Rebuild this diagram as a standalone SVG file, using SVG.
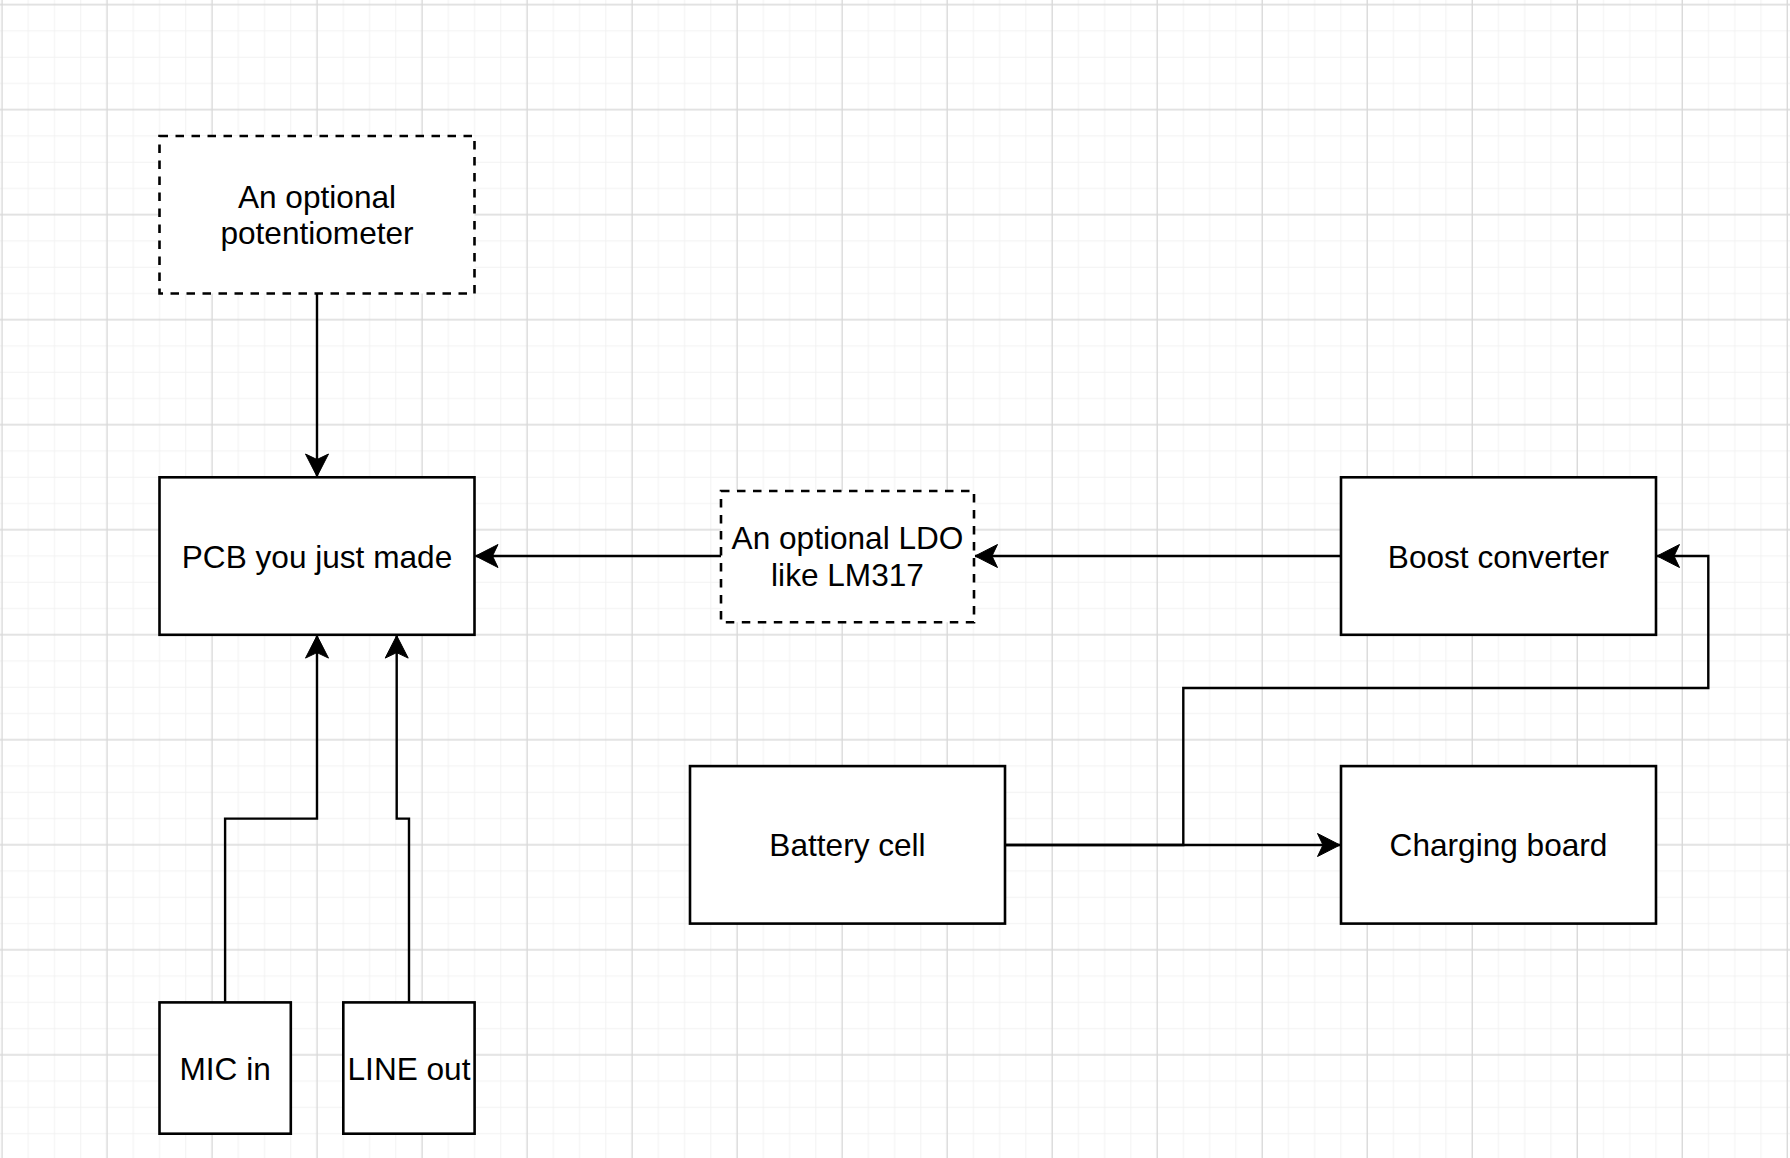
<svg xmlns="http://www.w3.org/2000/svg" width="1790" height="1158" viewBox="0 0 1790 1158">
<style>
.box{fill:#ffffff;stroke:#000000;stroke-width:2.6}
.dash{stroke-dasharray:8.5 7.5}
.lbl{font-family:"Liberation Sans",Arial,sans-serif;font-size:31.6px;fill:#000000;text-anchor:middle}
.edge{fill:none;stroke:#000000;stroke-width:2.4}
</style>
<defs>
<pattern id="grid" patternUnits="userSpaceOnUse" x="-11.127" y="-8.427" width="105.016" height="105.016">
<path d="M39.381 0V105.016M65.635 0V105.016M91.889 0V105.016M0 39.381H105.016M0 65.635H105.016M0 91.889H105.016" stroke="#f2f2f2" stroke-width="1" fill="none"/>
<path d="M13.127 0V105.016M0 13.127H105.016" stroke="#d9d9d9" stroke-width="1.4" fill="none"/>
</pattern>
<marker id="arr" viewBox="-25 -13 27 26" refX="0" refY="0" markerWidth="27" markerHeight="26" markerUnits="userSpaceOnUse" orient="auto">
<path d="M0 0L-22.5 -11.5L-17 0L-22.5 11.5Z" fill="#000000" stroke="#000000" stroke-width="1"/>
</marker>
</defs>
<rect width="1790" height="1158" fill="#ffffff"/>
<rect width="1790" height="1158" fill="url(#grid)"/>
<g id="connectors">
<path class="edge" d="M317 293.5V476.5" marker-end="url(#arr)"/>
<path class="edge" d="M225.1 1002.4V818.6H317V635.6" marker-end="url(#arr)"/>
<path class="edge" d="M409 1002.4V818.6H396.7V635.6" marker-end="url(#arr)"/>
<path class="edge" d="M721 556H475.5" marker-end="url(#arr)"/>
<path class="edge" d="M1341 556H975" marker-end="url(#arr)"/>
<path class="edge" d="M1005 845H1340" marker-end="url(#arr)"/>
<path class="edge" d="M1005 845H1183.3V688H1708.3V556H1657" marker-end="url(#arr)"/>
</g>
<g id="potentiometer">
<rect class="box dash" x="159.5" y="136" width="315" height="157.5"/>
<text class="lbl" x="317" y="207.8">An optional</text>
<text class="lbl" x="317" y="244.3">potentiometer</text>
</g>
<g id="pcb">
<rect class="box" x="159.5" y="477.3" width="315" height="157.5"/>
<text class="lbl" x="317" y="567.6">PCB you just made</text>
</g>
<g id="ldo">
<rect class="box dash" x="721" y="491" width="253" height="131.3"/>
<text class="lbl" x="847.5" y="548.5">An optional LDO</text>
<text class="lbl" x="847.5" y="585.5">like LM317</text>
</g>
<g id="boost">
<rect class="box" x="1341" y="477.3" width="315" height="157.5"/>
<text class="lbl" x="1498.5" y="567.6">Boost converter</text>
</g>
<g id="battery">
<rect class="box" x="690" y="766.1" width="315" height="157.5"/>
<text class="lbl" x="847.5" y="856.4">Battery cell</text>
</g>
<g id="charging">
<rect class="box" x="1341" y="766.1" width="315" height="157.5"/>
<text class="lbl" x="1498.5" y="856.4">Charging board</text>
</g>
<g id="mic">
<rect class="box" x="159.5" y="1002.4" width="131.3" height="131.3"/>
<text class="lbl" x="225.1" y="1079.5">MIC in</text>
</g>
<g id="lineout">
<rect class="box" x="343.3" y="1002.4" width="131.3" height="131.3"/>
<text class="lbl" x="409" y="1079.5">LINE out</text>
</g>
</svg>
